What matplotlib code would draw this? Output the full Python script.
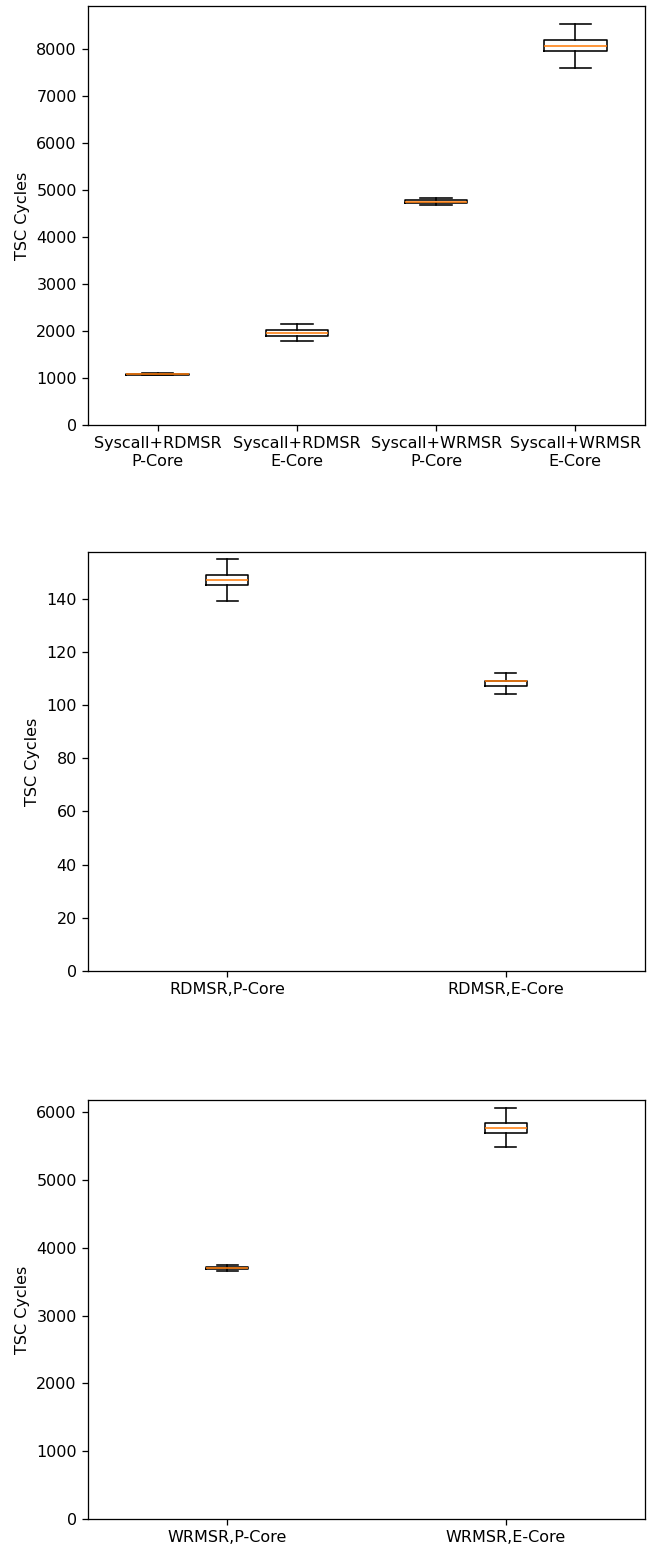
import matplotlib
matplotlib.use("Agg")
import matplotlib.pyplot as plt

# Syscall round-trip costs
syscall_labels = ["Syscall+RDMSR\nP-Core", "Syscall+RDMSR\nE-Core",
                  "Syscall+WRMSR\nP-Core", "Syscall+WRMSR\nE-Core"]
syscall_whislo = [1060, 1787, 4680, 7581]
syscall_q1 = [1070, 1900, 4720, 7943]
syscall_med = [1080, 1964, 4750, 8057]
syscall_q3 = [1090, 2021, 4785, 8177]
syscall_whishi = [1100, 2149, 4830, 8532]

# Raw RDMSR costs
rdmsr_labels = ["RDMSR,P-Core", "RDMSR,E-Core"]
rdmsr_whislo = [139, 104]
rdmsr_q1 = [145, 107]
rdmsr_med = [147, 109]
rdmsr_q3 = [149, 109]
rdmsr_whishi = [155, 112]

# Raw WRMSR costs
wrmsr_labels = ["WRMSR,P-Core", "WRMSR,E-Core"]
wrmsr_whislo = [3650, 5479]
wrmsr_q1 = [3680, 5685]
wrmsr_med = [3700, 5769]
wrmsr_q3 = [3720, 5842]
wrmsr_whishi = [3750, 6057]


def make_stats(labels, lo, q1, med, q3, hi):
    return [dict(label=l, whislo=a, q1=b, med=c, q3=d, whishi=e, fliers=[])
            for l, a, b, c, d, e in zip(labels, lo, q1, med, q3, hi)]


W, H = 647, 1548
DPI = 115
fig = plt.figure(figsize=(W / DPI, H / DPI), dpi=DPI)

left, width, height = 88 / W, 557 / W, 419 / H
bottoms_px = [425, 971, 1519]

panels = [
    make_stats(syscall_labels, syscall_whislo, syscall_q1, syscall_med, syscall_q3, syscall_whishi),
    make_stats(rdmsr_labels, rdmsr_whislo, rdmsr_q1, rdmsr_med, rdmsr_q3, rdmsr_whishi),
    make_stats(wrmsr_labels, wrmsr_whislo, wrmsr_q1, wrmsr_med, wrmsr_q3, wrmsr_whishi),
]

for stats, b in zip(panels, bottoms_px):
    ax = fig.add_axes([left, (H - b) / H, width, height])
    ax.bxp(stats, showfliers=False)
    ax.set_ylim(bottom=0)
    ax.set_ylabel("TSC Cycles")

fig.savefig("out.png", dpi=DPI)
